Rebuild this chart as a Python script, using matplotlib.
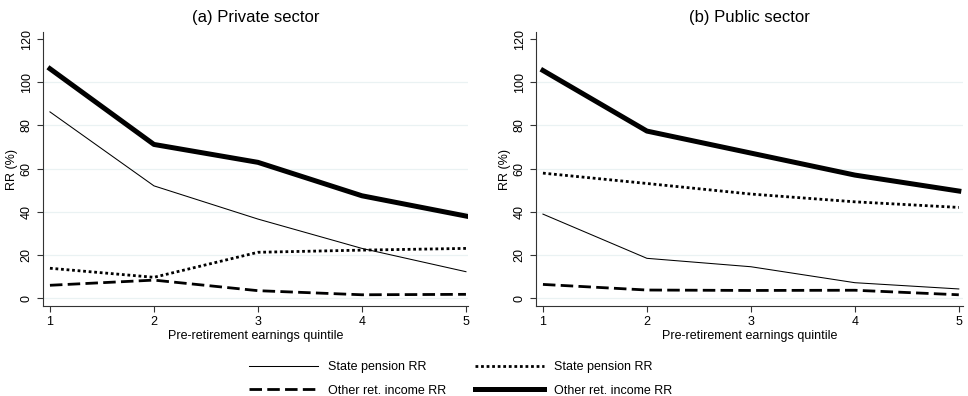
import numpy as np
import matplotlib
matplotlib.use("Agg")
import matplotlib.pyplot as plt

plt.rcParams['font.family'] = ['Liberation Sans', 'DejaVu Sans']

quintiles = [1, 2, 3, 4, 5]
yticks = [0, 20, 40, 60, 80, 100, 120]

# (a) Private sector
priv_state_thin = [86.3, 52.0, 36.6, 23.0, 12.2]
priv_state_dot = [13.8, 9.6, 21.2, 22.2, 23.0]
priv_other_dash = [5.9, 8.3, 3.4, 1.5, 1.7]
priv_other_thick = [106.3, 71.2, 62.9, 47.4, 38.0]

# (b) Public sector
pub_state_thin = [38.9, 18.4, 14.5, 7.1, 4.2]
pub_state_dot = [57.9, 53.1, 48.2, 44.6, 42.0]
pub_other_dash = [6.3, 3.7, 3.5, 3.6, 1.5]
pub_other_thick = [105.5, 77.4, 67.2, 57.0, 49.6]

titles = ['(a) Private sector', '(b) Public sector']
labels = ['State pension RR', 'Other ret. income RR',
          'State pension RR', 'Other ret. income RR']

fig = plt.figure(figsize=(9.68, 3.96), dpi=100)
ax1 = fig.add_axes([0.0444, 0.2273, 0.4391, 0.6917])
ax2 = fig.add_axes([0.5537, 0.2273, 0.4411, 0.6917])

panels = [
    (ax1, priv_state_thin, priv_state_dot, priv_other_dash, priv_other_thick, 5.02),
    (ax2, pub_state_thin, pub_state_dot, pub_other_dash, pub_other_thick, 5.04),
]

handles = []
for i, (ax, thin, dot, dash, thick, xmax) in enumerate(panels):
    for y in [0, 20, 40, 60, 80, 100]:
        ax.axhline(y, color='#eaf2f3', lw=0.9, zorder=0)
    h1, = ax.plot(quintiles, thin, color='black', lw=0.75)
    h2, = ax.plot(quintiles, dash, color='black', lw=2.0, dashes=(4.5, 1.9),
                  solid_capstyle='butt', dash_capstyle='butt')
    h3, = ax.plot(quintiles, dot, color='black', lw=2.0, dashes=(1, 1),
                  dash_capstyle='butt')
    h4, = ax.plot(quintiles, thick, color='black', lw=3.6)
    if i == 0:
        handles = [h1, h2, h3, h4]

    ax.set_xlim(0.933, xmax)
    ax.set_ylim(-3.7, 123.3)
    ax.set_xticks(quintiles)
    ax.set_yticks(yticks)
    ax.tick_params(axis='both', labelsize=9, length=4, width=0.8, color='#333333')
    for lab in ax.get_yticklabels():
        lab.set_rotation(90)
        lab.set_va('center')
    ax.spines['top'].set_visible(False)
    ax.spines['right'].set_visible(False)
    ax.spines['left'].set_color('#333333')
    ax.spines['bottom'].set_color('#333333')
    ax.set_xlabel('Pre-retirement earnings quintile', fontsize=9, labelpad=1)
    ax.set_ylabel('RR (%)', fontsize=9, labelpad=2)
    ax.set_title(titles[i], fontsize=12, pad=7)

fig.legend(handles, labels, ncol=2, loc='center', bbox_to_anchor=(0.476, 0.043),
           frameon=False, fontsize=9, handlelength=5.5, handletextpad=0.8,
           columnspacing=2.3, labelspacing=0.9)

fig.savefig('out.png', dpi=100)
